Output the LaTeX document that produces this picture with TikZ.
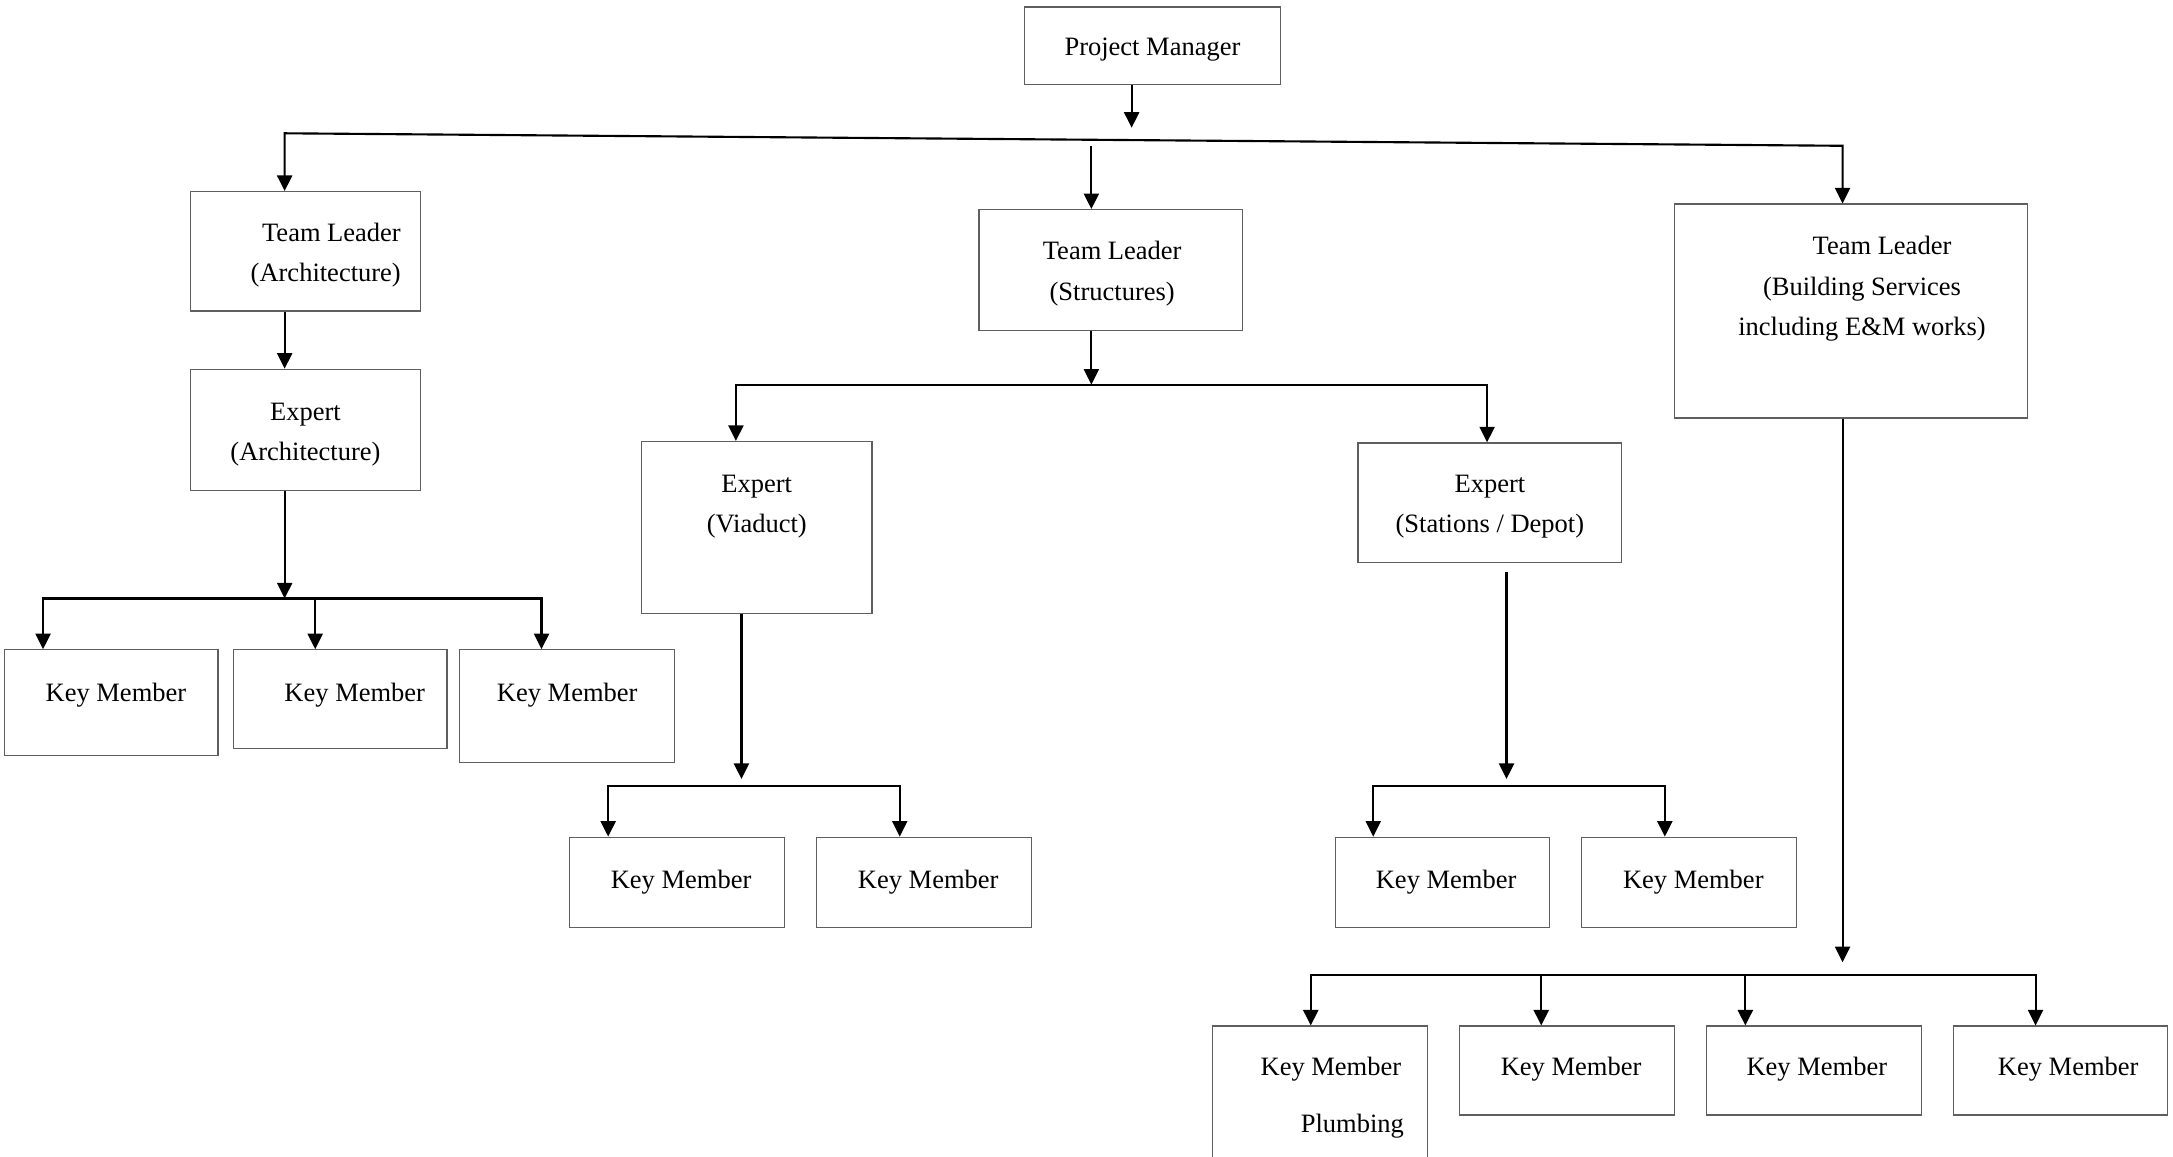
\documentclass[tikz,border=0pt]{standalone}
\usepackage{fontspec}
\setmainfont{Liberation Serif}
\usetikzlibrary{arrows.meta,fit}
\definecolor{boxline}{RGB}{95,95,95}
\tikzset{
  box/.style={draw=boxline,line width=0.5pt,inner sep=0pt,fit={#1}},
  txt/.style={inner sep=0pt,align=center,font=\fontsize{10.6}{16.1}\selectfont},
  arr/.style={line width=0.85pt,-{Triangle[length=6.2pt,width=6pt]}},
  arrtwo/.style={line width=0.85pt,{Triangle[length=6.2pt,width=6pt]}-{Triangle[length=6.2pt,width=6pt]}}
}
\begin{document}
\begin{tikzpicture}[x=0.5554pt,y=-0.5554pt]
			\useasboundingbox (0,0) rectangle (1565,832.6);

			%Shapes
			\node[box={(738,5) (922,61)}] (pm) {};
			\node[box={(137,138) (303,224)}] (tlArch) {};
			\node[box={(137,266) (303,353)}] (exArch) {};
			\node[box={(3,468) (157,544)}] (kmAa) {};
			\node[box={(168,468) (322,539)}] (kmAb) {};
			\node[box={(331,468) (486,549)}] (kmAc) {};
			\node[box={(705,151) (895,238)}] (tlStr) {};
			\node[box={(462,318) (628,442)}] (exVia) {};
			\node[box={(410,603) (565,668)}] (kmVa) {};
			\node[box={(588,603) (743,668)}] (kmVb) {};
			\node[box={(978,319) (1168,405)}] (exSta) {};
			\node[box={(962,603) (1116,668)}] (kmSa) {};
			\node[box={(1139,603) (1294,668)}] (kmSb) {};
			\node[box={(1206,147) (1460,301)}] (tlBS) {};
			\node[box={(873,739) (1028,860)}] (kmBa) {};
			\node[box={(1051,739) (1206,803)}] (kmBb) {};
			\node[box={(1229,739) (1384,803)}] (kmBc) {};
			\node[box={(1407,739) (1561,803)}] (kmBd) {};

			% Text Node
			\node[txt] (pmT) at (830,36) {Project Manager};
			% Text Node
			\node[txt,align=right,anchor=east] (tlArchT) at (289,184) {Team Leader\\(Architecture)};
			% Text Node
			\node[txt] (exArchT) at (220,313) {Expert\\(Architecture)};
			% Text Node
			\node[txt] (tlStrT) at (801,197) {Team Leader\\(Structures)};
			% Text Node
			\node[txt] (exViaT) at (545,365) {Expert\\(Viaduct)};
			% Text Node
			\node[txt] (exStaT) at (1073,365) {Expert\\(Stations / Depot)};
			% Text Node
			\node[txt] (tlBST) at (1341,208) {\hspace*{16pt}Team Leader\\(Building Services\\including E\&M works)};
			% Text Node
			\node[txt] (kmAaT) at (83.5,501) {Key Member};
			\node[txt] (kmAbT) at (255.5,501) {Key Member};
			\node[txt] (kmAcT) at (408.5,501) {Key Member};
			\node[txt] (kmVaT) at (490.5,635) {Key Member};
			\node[txt] (kmVbT) at (668.5,635) {Key Member};
			\node[txt] (kmSaT) at (1041.5,635) {Key Member};
			\node[txt] (kmSbT) at (1219.5,635) {Key Member};
			\node[txt] (kmBaT) at (958.5,770) {Key Member};
			\node[txt] (kmBaP) at (974,811) {Plumbing};
			\node[txt] (kmBbT) at (1131.5,770) {Key Member};
			\node[txt] (kmBcT) at (1308.5,770) {Key Member};
			\node[txt] (kmBdT) at (1489.5,770) {Key Member};

			%Coordinates
			\coordinate (pmEnd) at (815,92);
			\coordinate (busL) at (205,96);
			\coordinate (busR) at (1327,105);
			\coordinate (busM) at (786,105);
			\coordinate (aEnd) at (205,431);
			\coordinate (aL) at (31,431);
			\coordinate (aM) at (227,431);
			\coordinate (aR) at (390,431);
			\coordinate (sEnd) at (786,277);
			\coordinate (sL) at (530,277);
			\coordinate (sR) at (1071,277);
			\coordinate (vEnd) at (534,561);
			\coordinate (vL) at (438,566);
			\coordinate (vR) at (648,566);
			\coordinate (tTop) at (1085,412);
			\coordinate (tEnd) at (1085,561);
			\coordinate (tL) at (989,566);
			\coordinate (tR) at (1199,566);
			\coordinate (bEnd) at (1327,693);
			\coordinate (bL) at (944,702);
			\coordinate (bMa) at (1110,702);
			\coordinate (bMb) at (1257,702);
			\coordinate (bR) at (1466,702);

			%Straight Lines
			\draw[arr] (pmEnd |- pm.south) -- (pmEnd);
			\draw[arrtwo] (busL |- tlArch.north) -- (busL) -- (busR) -- (busR |- tlBS.north);
			\draw[arr] (busM) -- (busM |- tlStr.north);
			%Straight Lines
			\draw[arr] (busL |- tlArch.south) -- (busL |- exArch.north);
			\draw[arr] (aEnd |- exArch.south) -- (aEnd);
			\draw[arrtwo] (aL |- kmAa.north) -- (aL) -- (aR) -- (aR |- kmAc.north);
			\draw[arr] (aM) -- (aM |- kmAb.north);
			%Straight Lines
			\draw[arr] (sEnd |- tlStr.south) -- (sEnd);
			\draw[arrtwo] (sL |- exVia.north) -- (sL) -- (sR) -- (sR |- exSta.north);
			\draw[arr] (vEnd |- exVia.south) -- (vEnd);
			\draw[arrtwo] (vL |- kmVa.north) -- (vL) -- (vR) -- (vR |- kmVb.north);
			\draw[arr] (tTop) -- (tEnd);
			\draw[arrtwo] (tL |- kmSa.north) -- (tL) -- (tR) -- (tR |- kmSb.north);
			%Straight Lines
			\draw[arr] (bEnd |- tlBS.south) -- (bEnd);
			\draw[arrtwo] (bL |- kmBa.north) -- (bL) -- (bR) -- (bR |- kmBd.north);
			\draw[arr] (bMa) -- (bMa |- kmBb.north);
			\draw[arr] (bMb) -- (bMb |- kmBc.north);
		\end{tikzpicture}
\end{document}
